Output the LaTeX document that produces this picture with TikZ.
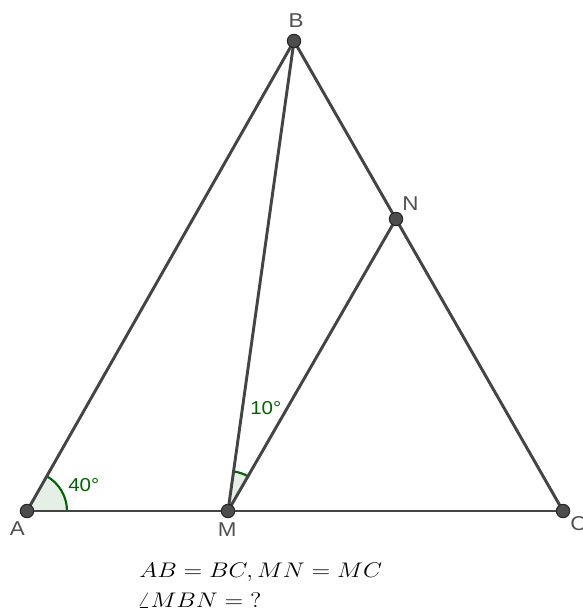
\documentclass[tikz,border=0pt]{standalone}
\usepackage{fontspec}
\newfontfamily\labfont{Liberation Sans}
\usetikzlibrary{angles}
\definecolor{segcol}{RGB}{68,68,68}
\definecolor{ptcol}{RGB}{77,77,77}
\definecolor{labcol}{RGB}{80,80,80}
\definecolor{angcol}{RGB}{0,100,0}
\newcommand{\hstretch}[2]{\scalebox{#1}[1]{#2}}
\tikzset{
  seg/.style={draw=segcol, line width=2.2pt},
  pt/.style={circle, fill=ptcol, draw=black!85, line width=0.8pt, minimum size=10pt, inner sep=0pt},
  lab/.style={text=labcol, font=\labfont\fontsize{15}{17}\selectfont, inner sep=0pt},
  anglab/.style={text=angcol, font=\labfont\fontsize{14}{16}\selectfont, inner sep=0pt, anchor=base west},
  angmark/.style={draw=angcol, line width=1.6pt, fill=angcol, fill opacity=0.1, angle radius=30pt},
  mathtxt/.style={font=\fontsize{14.4}{17}\selectfont, inner sep=0pt, anchor=base west}
}
\begin{document}
\begin{tikzpicture}[x=0.75pt, y=-0.75pt]
\clip (0,0) rectangle (582,609);
\useasboundingbox (0,0) rectangle (582,609);
\coordinate (A) at (27,511);
\coordinate (M) at (228,511);
\coordinate (C) at (563,511);
\coordinate (B) at (294,41);
\coordinate (N) at (396,219);
% angles
\pic[angmark] {angle = C--A--B};
\pic[angmark] {angle = N--M--B};
% segments
\draw[seg] (A) -- (C);
\draw[seg] (A) -- (B);
\draw[seg] (B) -- (C);
\draw[seg] (B) -- (M);
\draw[seg] (M) -- (N);
% points
\node[pt] (pA) at (A) {};
\node[pt] (pM) at (M) {};
\node[pt] (pC) at (C) {};
\node[pt] (pB) at (B) {};
\node[pt] (pN) at (N) {};
% labels
\node[lab, anchor=base] (lB) at (296,28) {\hstretch{1.12}{B}};
\node[lab, anchor=base west] (lN) at (402,210.5) {\hstretch{1.12}{N}};
\node[lab, anchor=base west] (lA) at (9.5,535) {\hstretch{1.12}{A}};
\node[lab, anchor=base west] (lM) at (217.5,536.5) {\hstretch{1.12}{M}};
\node[lab, anchor=base west] (lC) at (570,530) {\hstretch{1.12}{C}};
\node[anglab] (a40) at (68,491.5) {\hstretch{1.1}{40°}};
\node[anglab] (a10) at (250,414) {\hstretch{1.1}{10°}};
% text
\node[mathtxt] (t1) at (139,577.5) {\scalebox{1.28}[1.1]{$AB=BC,MN=MC$}};
\node[mathtxt] (t2) at (137,607) {\scalebox{1.28}[1.1]{$\angle MBN={?}$}};
\end{tikzpicture}
\end{document}
